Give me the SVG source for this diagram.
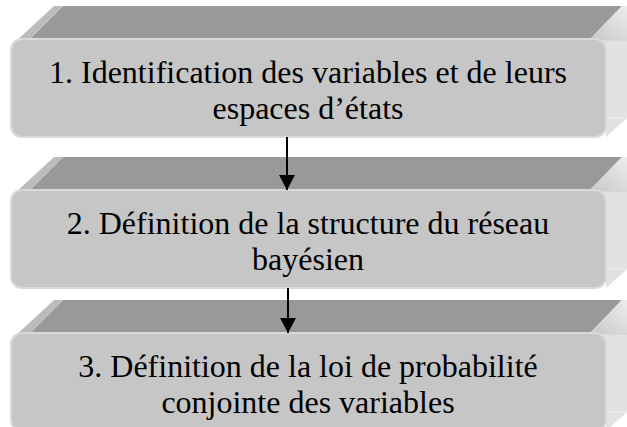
<svg xmlns="http://www.w3.org/2000/svg" xmlns:xlink="http://www.w3.org/1999/xlink" width="627" height="427" viewBox="0 0 627 427">
<style>
.top{fill:#999999}
.bev{fill:#bcbcbc}
.side{fill:#e2e2e2}
.front{fill:#c6c6c6;stroke:#d9d9d9;stroke-width:2}
.lbl{font-family:"Liberation Serif","Times New Roman",serif;font-size:32px;fill:#000;text-anchor:middle}
.conn{stroke:#000;stroke-width:2;fill:none}
</style>
<defs>
<linearGradient id="sideTop" x1="0" y1="1" x2="1" y2="0">
<stop offset="0" stop-color="#c8c8c8"/>
<stop offset="1" stop-color="#ececec"/>
</linearGradient>
<marker id="arr" markerUnits="userSpaceOnUse" markerWidth="16" markerHeight="16" refX="15" refY="8" orient="auto">
<path d="M0,0 L15,8 L0,16 Z" fill="#000"/>
</marker>
<g id="box">
<polygon class="top" points="30,39 63,6 622,6 590,39"/>
<polygon class="bev" points="14,43 54,6 63,6 30,39"/>
<polygon fill="url(#sideTop)" points="590,39 622,6 627,6 627,40 595,40"/>
<polygon class="side" points="595,40 627,40 627,118 606,137 606,45"/>
<line x1="590" y1="40" x2="627" y2="40" stroke="#d0d0d0" stroke-width="1"/>
<line x1="606" y1="118" x2="627" y2="118" stroke="#eeeeee" stroke-width="1"/>
<rect class="front" x="11" y="39" width="595" height="98" rx="11" ry="11"/>
</g>
</defs>
<g id="node1">
<use xlink:href="#box" href="#box"/>
<text class="lbl" x="308" y="83">1. Identification des variables et de leurs</text>
<text class="lbl" x="308" y="119">espaces d’états</text>
</g>
<g id="node2" transform="translate(0,151)">
<use xlink:href="#box" href="#box"/>
<text class="lbl" x="308" y="83">2. Définition de la structure du réseau</text>
<text class="lbl" x="308" y="119">bayésien</text>
</g>
<g id="node3" transform="translate(0,294)">
<use xlink:href="#box" href="#box"/>
<text class="lbl" x="308" y="83">3. Définition de la loi de probabilité</text>
<text class="lbl" x="308" y="119">conjointe des variables</text>
</g>
<g id="connectors">
<line class="conn" x1="287" y1="137" x2="287" y2="190" marker-end="url(#arr)"/>
<line class="conn" x1="288" y1="288" x2="288" y2="333" marker-end="url(#arr)"/>
</g>
</svg>
